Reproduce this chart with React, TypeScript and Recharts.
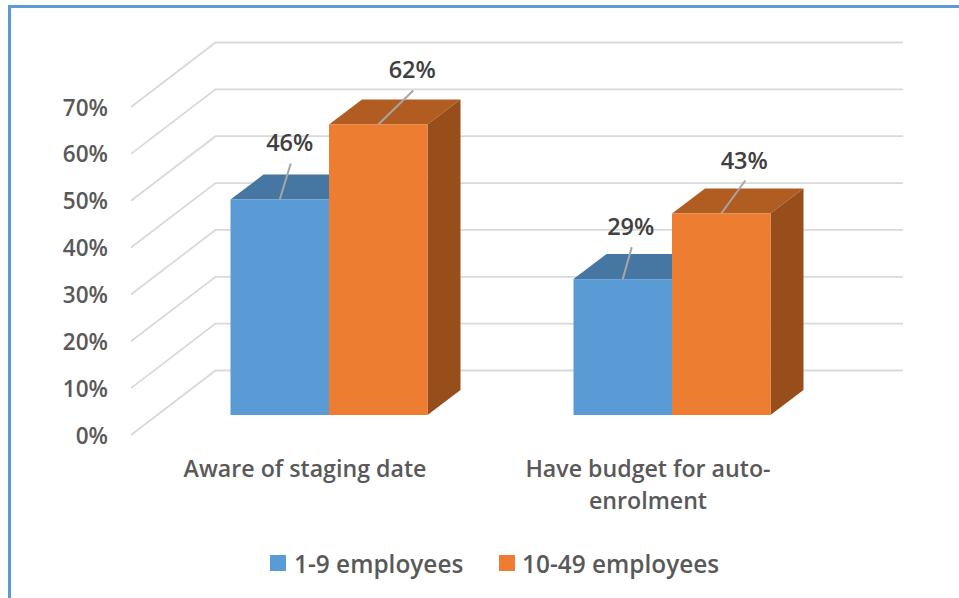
import { BarChart, Bar, XAxis, YAxis, CartesianGrid, Legend, LabelList } from 'recharts'

const categories = ['Aware of staging date', 'Have budget for auto-enrolment']
const smallEmployers = [46, 29]
const mediumEmployers = [62, 43]
const yTicks = [0, 10, 20, 30, 40, 50, 60, 70]

const data = categories.map((name, i) => ({
  name,
  small: smallEmployers[i],
  medium: mediumEmployers[i],
}))

const FONT = '"Open Sans", sans-serif'
const TEXT = '#595959'
const DEPTH_X = 33
const DEPTH_Y = 25

// leader line ends, relative to the middle of the bar top
const smallLeaders = [[11, -36], [9, -32]]
const mediumLeaders = [[35, -34], [24, -33]]

const makeBar3D = (top: string, side: string) => (props: any) => {
  const { x, y, width, height, fill } = props
  const r = x + width
  const b = y + height
  return (
    <g>
      <polygon
        points={`${x},${y} ${x + DEPTH_X},${y - DEPTH_Y} ${r + DEPTH_X},${y - DEPTH_Y} ${r},${y}`}
        fill={top}
      />
      <polygon
        points={`${r},${y} ${r + DEPTH_X},${y - DEPTH_Y} ${r + DEPTH_X},${b - DEPTH_Y} ${r},${b}`}
        fill={side}
      />
      <rect x={x} y={y} width={width} height={height} fill={fill} />
    </g>
  )
}
const BlueBar = makeBar3D('#4676A2', '#41719C')
const OrangeBar = makeBar3D('#B15D22', '#974E1B')

const gridLine = (props: any) => {
  const { y1, index } = props
  return (
    <polyline
      key={index}
      points={`131,${y1 + 20} 215.5,${y1 - 44.5} 903,${y1 - 44.5}`}
      fill="none"
      stroke="#d9d9d9"
      strokeWidth={1.8}
    />
  )
}

const YTick = ({ y, payload }: any) => (
  <text
    x={108}
    y={y + 20}
    textAnchor="end"
    dominantBaseline="central"
    fontFamily={FONT}
    fontWeight={600}
    fontSize={22.5}
    fill={TEXT}
  >
    {payload.value}%
  </text>
)

const XTick = ({ x, y, payload }: any) => {
  const lines = String(payload.value).replace('auto-', 'auto-\n').split('\n')
  return (
    <text textAnchor="middle" fontFamily={FONT} fontWeight={600} fontSize={23.2} fill={TEXT}>
      {lines.map((line, i) => (
        <tspan key={i} x={x - 24} y={y + 54 + i * 32}>
          {line}
        </tspan>
      ))}
    </text>
  )
}

const makeLabel = (leaders: number[][]) => (props: any) => {
  const { x, y, width, value, index } = props
  const cx = x + width / 2
  const [dx, dy] = leaders[index]
  return (
    <g>
      <line x1={cx} y1={y} x2={cx + dx} y2={y + dy} stroke="#a6a6a6" strokeWidth={2} />
      <text
        x={cx + dx - 1}
        y={y + dy - 21}
        textAnchor="middle"
        dominantBaseline="central"
        fontFamily={FONT}
        fontWeight={600}
        fontSize={23.5}
        fill="#404040"
      >
        {value}%
      </text>
    </g>
  )
}
const SmallLabel = makeLabel(smallLeaders)
const MediumLabel = makeLabel(mediumLeaders)

const LegendContent = ({ payload }: any) => (
  <div style={{ position: 'relative', height: 32, fontFamily: FONT, fontWeight: 600, fontSize: 24.4, color: TEXT }}>
    {(payload ?? []).map((item: any, i: number) => (
      <div key={i} style={{ position: 'absolute', left: i === 0 ? 270 : 499, top: 0, display: 'flex', alignItems: 'center', height: 32, whiteSpace: 'nowrap' }}>
        <span style={{ width: 16, height: 16, background: item.color, marginRight: i === 0 ? 8 : 7 }} />
        {item.value}
      </div>
    ))}
  </div>
)

export default function App() {
  return (
    <div
      style={{
        position: 'absolute',
        left: 0,
        top: 0,
        width: 959,
        height: 598,
        overflow: 'hidden',
        background: '#fff',
      }}
    >
      <div
        style={{
          position: 'absolute',
          left: 8,
          top: 5,
          width: 951,
          height: 593,
          boxSizing: 'border-box',
          borderLeft: '3px solid #5B9BD5',
          borderTop: '3px solid #5B9BD5',
        }}
      />
      <div style={{ position: 'absolute', left: 0, top: 0 }}>
        <BarChart
          width={959}
          height={598}
          data={data}
          barGap={0}
          barSize={98.5}
          margin={{ top: 87, right: 115.5, bottom: 133, left: 107.5 }}
        >
          <CartesianGrid vertical={false} horizontal={gridLine} />
          <XAxis dataKey="name" height={50} axisLine={false} tickLine={false} tick={XTick} />
          <YAxis width={50} domain={[0, 70]} ticks={yTicks} axisLine={false} tickLine={false} tick={YTick} />
          <Legend
            layout="horizontal"
            align="center"
            verticalAlign="middle"
            wrapperStyle={{ left: 0, top: 547, width: 959 }}
            content={LegendContent}
          />
          <Bar dataKey="small" name="1-9 employees" fill="#5B9BD5" isAnimationActive={false} shape={BlueBar}>
            <LabelList dataKey="small" content={SmallLabel} />
          </Bar>
          <Bar dataKey="medium" name="10-49 employees" fill="#ED7D31" isAnimationActive={false} shape={OrangeBar}>
            <LabelList dataKey="medium" content={MediumLabel} />
          </Bar>
        </BarChart>
      </div>
    </div>
  )
}
